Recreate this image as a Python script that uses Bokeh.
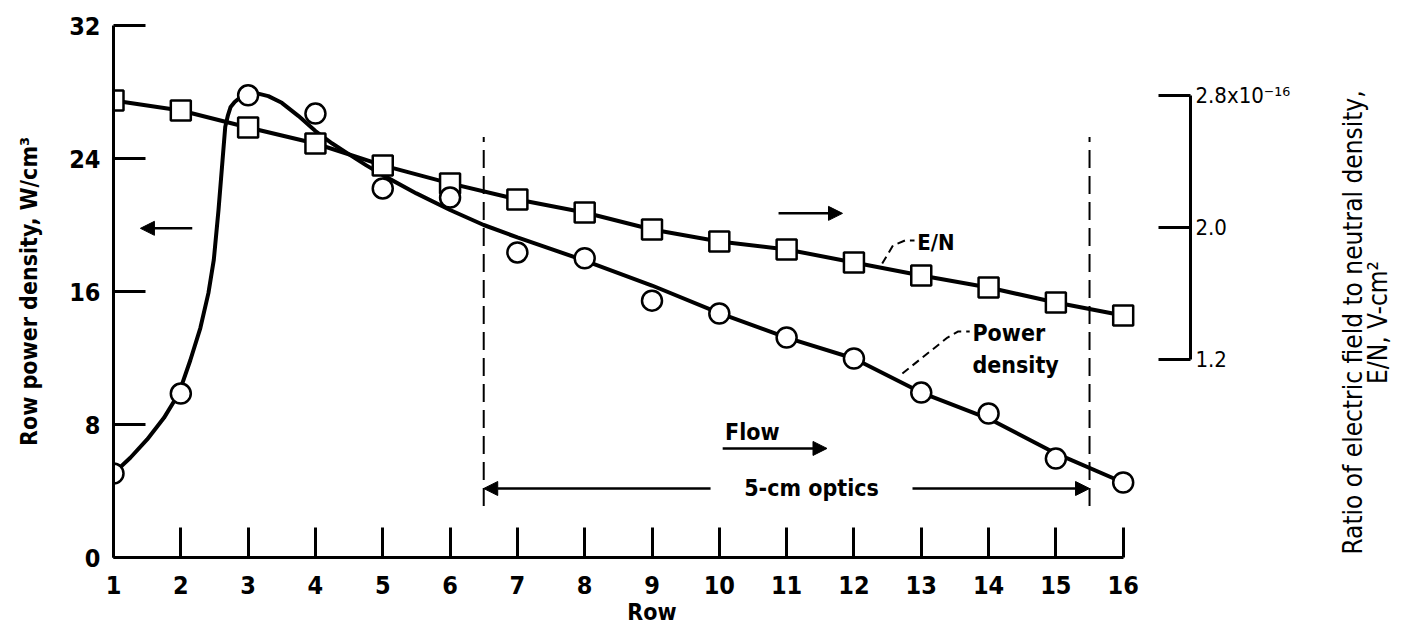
import math
from bokeh.plotting import figure
from bokeh.layouts import row
from bokeh.models import Range1d, LinearAxis, FixedTicker, Label, Arrow, NormalHead
from bokeh.core.properties import value
from bokeh.embed import file_html
from bokeh.resources import INLINE

# ---------------- data ----------------
ROWS = list(range(1, 17))
POWER_DENSITY = [5.05, 9.86, 27.8, 26.7, 22.2, 21.65, 18.35, 18.0, 15.45, 14.68,
                 13.23, 11.97, 9.92, 8.66, 5.95, 4.51]          # W/cm^3 (left axis)
EN_RATIO = [2.77, 2.709, 2.606, 2.509, 2.376, 2.267, 2.170, 2.091, 1.988, 1.915,
            1.867, 1.788, 1.709, 1.636, 1.545, 1.467]          # x1e-16 V-cm^2 (right axis)

# faired curve through the power-density data, as drawn in the reference
FIT_ROW = [1.0, 1.25, 1.5, 1.75, 1.97, 2.14, 2.29, 2.41, 2.49, 2.56, 2.62, 2.66, 2.70,
           2.74, 2.8, 2.89, 3.0, 3.15, 3.3, 3.5, 3.75, 4.0, 4.25, 4.5, 4.75, 5.0, 5.5,
           6.0, 6.5, 7, 8, 9, 10, 11, 12, 13, 14, 15, 16]
FIT_POWER = [5.05, 6.0, 7.1, 8.4, 9.86, 11.85, 13.8, 15.9, 17.9, 20.9, 23.9, 25.9, 26.6,
             27.1, 27.4, 27.7, 27.85, 27.9, 27.75, 27.35, 26.55, 25.65, 24.9, 24.25,
             23.6, 23.0, 21.9, 20.9, 20.0, 19.25, 17.86, 16.36, 14.7, 13.23, 11.97,
             9.92, 8.36, 6.26, 4.51]

LEFT_TICKS = [0, 8, 16, 24, 32]
RIGHT_TICKS = [1.2, 2.0, 2.8]
RIGHT_TICK_LABELS = ["1.2", "2.0", "2.8x10\u207b\u00b9\u2076"]
OPTICS_ROWS = [6.5, 15.5]
RIGHT_TITLE = ["Ratio of electric field to neutral density,", "E/N, V-cm\u00b2"]

FONT = "DejaVu Sans Condensed, Roboto, sans-serif"
LEFT_W, FRAME_W, RIGHT_W = 113, 1077, 130
TOP_H, FRAME_H, BOTTOM_H = 25, 532, 76
TITLE_W = 83

p = figure(frame_width=FRAME_W, frame_height=FRAME_H,
           x_range=Range1d(1, 17), y_range=Range1d(0, 32),
           output_backend="svg", toolbar_location=None,
           min_border_left=LEFT_W, min_border_top=TOP_H,
           min_border_right=RIGHT_W, min_border_bottom=BOTTOM_H)
p.extra_y_ranges = {"en": Range1d(0, 3.224)}
p.outline_line_color = None
p.xgrid.visible = False
p.ygrid.visible = False
p.background_fill_color = "white"
p.border_fill_color = "white"


def style_axis(ax, size="25px", weight="bold"):
    ax.axis_line_width = 3
    ax.major_tick_line_width = 3
    ax.major_tick_in = 32
    ax.major_tick_out = 0
    ax.minor_tick_line_color = None
    ax.major_label_text_font = FONT
    ax.major_label_text_font_size = size
    ax.major_label_text_font_style = weight
    ax.major_label_text_color = "black"
    ax.axis_label_text_font = FONT
    ax.axis_label_text_font_style = "bold"
    ax.axis_label_text_color = "black"


xa = p.xaxis[0]
style_axis(xa)
xa.ticker = FixedTicker(ticks=ROWS)
xa.bounds = (1, 16)
xa.major_tick_in = 30
xa.major_label_standoff = 18
xa.axis_label = "Row"
xa.axis_label_text_font_size = "23px"
xa.axis_label_standoff = 2

ya = p.yaxis[0]
style_axis(ya)
ya.ticker = FixedTicker(ticks=LEFT_TICKS)
ya.major_label_standoff = 13
ya.axis_label = "Row power density, W/cm\u00b3"
ya.axis_label_text_font_size = "23px"
ya.axis_label_standoff = 24

ra = LinearAxis(y_range_name="en")
style_axis(ra, size="22px", weight="normal")
ra.ticker = FixedTicker(ticks=RIGHT_TICKS)
ra.bounds = (1.2, 2.8)
ra.major_label_overrides = {t: s for t, s in zip(RIGHT_TICKS, RIGHT_TICK_LABELS)}
ra.major_label_standoff = 5
p.add_layout(ra, "right")

# ---------------- dashed "5-cm optics" limits ----------------
p.segment(x0=OPTICS_ROWS, x1=OPTICS_ROWS, y0=[3.1, 3.1], y1=[25.3, 25.3],
          line_color="black", line_width=2, line_dash="18 8")

# ---------------- curves and symbols ----------------
p.line(FIT_ROW, FIT_POWER, line_color="black", line_width=4, line_join="round")
p.line(ROWS, EN_RATIO, y_range_name="en", line_color="black", line_width=4)
p.scatter(ROWS, EN_RATIO, y_range_name="en", marker="square", size=20,
          fill_color="white", line_color="black", line_width=2.5)
p.scatter(ROWS, POWER_DENSITY, marker="circle", size=20,
          fill_color="white", line_color="black", line_width=2.5)

# ---------------- leaders ----------------
p.line([12.42, 12.58, 12.76, 12.9], [17.68, 18.77, 19.07, 19.07],
       line_color="black", line_width=2, line_dash="8 5")
p.line([12.72, 13.39, 13.55, 13.72], [11.07, 13.23, 13.6, 13.6],
       line_color="black", line_width=2, line_dash="8 5")


def txt(x, y, s, size="23px", align="left", weight="bold"):
    p.add_layout(Label(x=x, y=y, text=s, text_font=FONT, text_font_size=size,
                       text_font_style=weight, text_align=align,
                       text_baseline="middle", text_color="black"))


txt(12.94, 18.95, "E/N", size="22px")
txt(13.76, 13.53, "Power", size="23px")
txt(13.76, 11.55, "density", size="23px")
txt(10.49, 7.52, "Flow", align="center")
txt(11.37, 4.2, "5-cm optics", align="center")


# ---------------- arrows ----------------
def arrow(x0, y0, x1, y1):
    p.add_layout(Arrow(end=NormalHead(size=14, fill_color="black", line_color="black"),
                       x_start=x0, y_start=y0, x_end=x1, y_end=y1,
                       line_color="black", line_width=2.5))


arrow(2.17, 19.8, 1.40, 19.8)          # points to left axis
arrow(10.88, 20.7, 11.83, 20.7)        # points to right axis
arrow(10.05, 6.56, 11.6, 6.56)         # flow direction
arrow(9.87, 4.15, OPTICS_ROWS[0], 4.15)
arrow(12.87, 4.15, OPTICS_ROWS[1], 4.15)

# ---------------- right-hand axis title (rotated, reads upward) ----------------
plot_w = LEFT_W + FRAME_W + RIGHT_W
plot_h = TOP_H + FRAME_H + BOTTOM_H
t = figure(frame_width=TITLE_W, frame_height=plot_h,
           x_range=Range1d(plot_w, plot_w + TITLE_W), y_range=Range1d(plot_h, 0),
           output_backend="svg", toolbar_location=None,
           x_axis_location=None, y_axis_location=None,
           min_border=0, min_border_left=0, min_border_right=0,
           min_border_top=0, min_border_bottom=0)
t.outline_line_color = None
t.xgrid.visible = False
t.ygrid.visible = False
t.background_fill_color = "white"
t.border_fill_color = "white"
t.text(x=[plot_w + 32, plot_w + 57], y=[297, 297], text=RIGHT_TITLE,
       angle=math.pi / 2, text_align="center", text_baseline="middle",
       text_font=value(FONT), text_font_size="26px", text_color="black")

layout = row(p, t, spacing=0)
open("out.html", "w").write(file_html(layout, INLINE))
